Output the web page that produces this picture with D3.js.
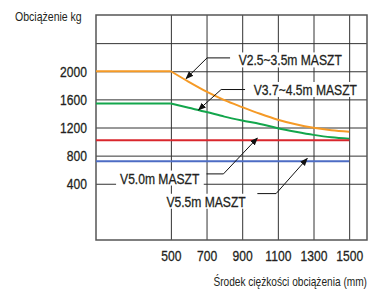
<!DOCTYPE html>
<html>
<head>
<meta charset="utf-8">
<script src="https://cdn.jsdelivr.net/npm/d3@7"></script>
<style>
  body { margin: 0; background: #fff; }
  text { font-family: "Liberation Sans", Arial, sans-serif; fill: #231f20; }
</style>
</head>
<body>
<div id="chart"></div>
<script>
// load centre positions (mm) and capacity curves (kg)
var centres = [80, 500, 600, 700, 800, 900, 1000, 1100, 1200, 1300, 1400, 1500];
var mast25 = [2000, 2000, 1850, 1710, 1590, 1490, 1395, 1310, 1245, 1195, 1160, 1140];
var mast37 = [1540, 1540, 1480, 1420, 1355, 1300, 1250, 1190, 1140, 1095, 1060, 1040];
var mast50 = [1020, 1020, 1020, 1020, 1020, 1020, 1020, 1020, 1020, 1020, 1020, 1020];
var mast55 = [720, 720, 720, 720, 720, 720, 720, 720, 720, 720, 720, 720];

var xTicks = [500, 700, 900, 1100, 1300, 1500];
var yTicks = [400, 800, 1200, 1600, 2000];
var yGrid = [400, 800, 1200, 1600, 2000, 2400];

var seriesNames = ["V2.5~3.5m MASZT", "V3.7~4.5m MASZT", "V5.0m MASZT", "V5.5m MASZT"];

var width = 369, height = 290,
    mLeft = 96, mTop = 15,
    pw = 271, ph = 225;

var x = d3.scaleLinear().domain([80, 1600]).range([0, pw]),
    y = d3.scaleLinear().domain([-400, 2800]).range([ph, 0]);

// the source uses a narrow face; squeeze each string to its width
function squeeze(sel, k) {
  sel.each(function() {
    var w = this.getComputedTextLength();
    d3.select(this).attr("textLength", w * (k || 0.8)).attr("lengthAdjust", "spacingAndGlyphs");
  });
}
function heavy(sel) {
  sel.attr("stroke", "#231f20").attr("stroke-width", 0.3);
}

var svg = d3.select("#chart").append("svg")
    .attr("width", width)
    .attr("height", height);

var g = svg.append("g").attr("transform", "translate(" + mLeft + "," + mTop + ")");

// grid
g.append("g")
    .attr("class", "grid")
    .attr("transform", "translate(0," + ph + ")")
    .call(d3.axisBottom(x).tickValues(xTicks).tickSize(-ph).tickFormat(""))
    .call(function(s) { s.select(".domain").remove(); });
g.append("g")
    .attr("class", "grid")
    .call(d3.axisLeft(y).tickValues(yGrid).tickSize(-pw).tickFormat(""))
    .call(function(s) { s.select(".domain").remove(); });
g.selectAll(".grid line").attr("stroke", "#333").attr("stroke-width", 1);
g.selectAll(".grid text").remove();

g.append("rect")
    .attr("x", 0).attr("y", 0)
    .attr("width", pw).attr("height", ph)
    .attr("fill", "none")
    .attr("stroke", "#555")
    .attr("stroke-width", 1.5);

// series
var series = [
  { name: seriesNames[0], values: mast25, color: "#f59a26" },
  { name: seriesNames[1], values: mast37, color: "#13a64c" },
  { name: seriesNames[2], values: mast50, color: "#d9262c" },
  { name: seriesNames[3], values: mast55, color: "#4d6cc4" }
];

var flat = d3.line().x(function(d) { return x(d[0]); }).y(function(d) { return y(d[1]); });
var bend = d3.line().curve(d3.curveMonotoneX).x(function(d) { return x(d[0]); }).y(function(d) { return y(d[1]); });

series.forEach(function(s) {
  var pts = centres.map(function(c, i) { return [c, s.values[i]]; });
  g.append("path").attr("d", flat(pts.slice(0, 2)))
    .attr("fill", "none").attr("stroke", s.color).attr("stroke-width", 2);
  g.append("path").attr("d", bend(pts.slice(1)))
    .attr("fill", "none").attr("stroke", s.color).attr("stroke-width", 2);
});

// callouts (label position, leader elbow and arrow tip in data units)
var callouts = [
  { text: seriesNames[0], tx: 880, ty: 2160, elbow: [[832, 2190], [703, 2190]], tip: [585, 1895] },
  { text: seriesNames[1], tx: 965, ty: 1740, elbow: [[916, 1740], [782, 1740]], tip: [655, 1450] },
  { text: seriesNames[2], tx: 215, ty: 480, elbow: [[700, 540], [795, 540]], tip: [985, 1050] },
  { text: seriesNames[3], tx: 475, ty: 150, elbow: [[985, 260], [1090, 260]], tip: [1265, 760] }
];

svg.append("defs").append("marker")
    .attr("id", "arrow")
    .attr("viewBox", "0 0 10 10")
    .attr("refX", 9).attr("refY", 5)
    .attr("markerWidth", 8).attr("markerHeight", 8)
    .attr("markerUnits", "userSpaceOnUse")
    .attr("orient", "auto")
  .append("path")
    .attr("d", "M0,1L10,5L0,9z")
    .attr("fill", "#111");

var lead = d3.line().x(function(d) { return x(d[0]); }).y(function(d) { return y(d[1]); });

var notes = g.append("g");
callouts.forEach(function(c) {
  var box = notes.append("rect").attr("fill", "#fff");
  var t = notes.append("text")
      .attr("x", x(c.tx))
      .attr("y", y(c.ty))
      .attr("dy", "0.35em")
      .attr("font-size", 15.5)
      .text(c.text)
      .call(squeeze, 0.78)
      .call(heavy);
  var bb = t.node().getBBox();
  box.attr("x", bb.x - 4).attr("y", bb.y + 1)
      .attr("width", bb.width + 8).attr("height", bb.height - 2);
  notes.append("path")
      .attr("d", lead(c.elbow.concat([c.tip])))
      .attr("fill", "none")
      .attr("stroke", "#111")
      .attr("stroke-width", 1)
      .attr("marker-end", "url(#arrow)");
});

// axis labels
var ya = g.append("g")
    .call(d3.axisLeft(y).tickValues(yTicks).tickSize(0).tickPadding(9).tickFormat(d3.format("d")));
ya.select(".domain").remove();
ya.selectAll("text").attr("font-size", 15.5).attr("fill", "#231f20")
    .style("font-family", "'Liberation Sans', Arial, sans-serif")
    .call(squeeze, 0.78)
    .call(heavy);

var xa = g.append("g")
    .attr("transform", "translate(0," + ph + ")")
    .call(d3.axisBottom(x).tickValues(xTicks).tickSize(0).tickPadding(10).tickFormat(d3.format("d")));
xa.select(".domain").remove();
xa.selectAll("text").attr("font-size", 15.5).attr("fill", "#231f20")
    .style("font-family", "'Liberation Sans', Arial, sans-serif")
    .call(squeeze, 0.78)
    .call(heavy);

svg.append("text")
    .attr("x", 15).attr("y", 21)
    .attr("font-size", 13.5)
    .text("Obciążenie kg")
    .call(squeeze, 0.78);

svg.append("text")
    .attr("x", 367).attr("y", 286)
    .attr("text-anchor", "end")
    .attr("font-size", 13.5)
    .text("Środek ciężkości obciążenia (mm)")
    .call(squeeze, 0.75);
</script>
</body>
</html>
